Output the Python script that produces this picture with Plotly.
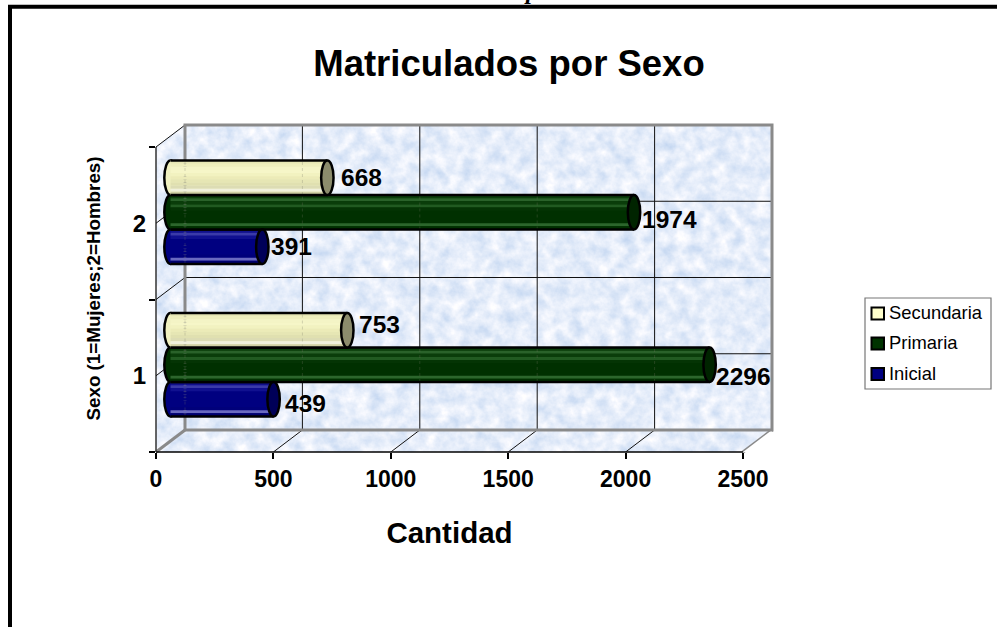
import base64
import plotly.graph_objects as go

# ---------- data ----------
categories = [1, 2]
inicial = [439, 391]
primaria = [2296, 1974]
secundaria = [753, 668]
series_names = ["Inicial", "Primaria", "Secundaria"]
x_ticks = [0, 500, 1000, 1500, 2000, 2500]
title_text = "Matriculados por Sexo"
x_title = "Cantidad"
y_title = "Sexo (1=Mujeres;2=Hombres)"

# ---------- geometry / style ----------
W, H = 997, 627
L_PX, R_PX, T_PX, B_PX = 156, 772, 125, 452
FRONT_R_PX = 743
X_PER_PX = 2500 / (FRONT_R_PX - L_PX)
Y_PER_PX = 2 / (452 - 147)
DEPTH_X = (R_PX - FRONT_R_PX) * X_PER_PX
DEPTH_Y = 22 * Y_PER_PX
X_MAX = 2500 + DEPTH_X
Y_MIN, Y_MAX = 0.5, 2.5 + DEPTH_Y
BAR_H = 34.5 * Y_PER_PX
CAP_HALF = 6.2 * X_PER_PX
BASE = DEPTH_X / 2
LIFT = DEPTH_Y / 2

FONT = "Liberation Sans"
GREY = "#8a8a8a"

strips = {
    "Secundaria": ["#e6e6b4", "#eeeebc", "#f4f4c6", "#f6f6c8", "#f2f2c0", "#ecebb8",
                   "#e6e6b4", "#e0e0b0", "#dcdcb4", "#f0f0dc", "#cfcfa4"],
    "Primaria": ["#0b3f0b", "#2a622a", "#0a3d0a", "#215a21", "#043404", "#003000",
                 "#003000", "#003000", "#003000", "#2c662c", "#003000"],
    "Inicial": ["#10108c", "#3a3aa8", "#101090", "#000080", "#000080", "#000080",
                "#000080", "#000080", "#00007a", "#6a6ac0", "#00006e"],
}
body = {"Secundaria": "#f0f0c0", "Primaria": "#003000", "Inicial": "#000080"}
caps = {"Secundaria": "#8c8c6c", "Primaria": "#002400", "Inicial": "#000058"}
swatch = {"Secundaria": "#ffffcc", "Primaria": "#003300", "Inicial": "#000080"}
offset = {"Inicial": -BAR_H, "Primaria": 0.0, "Secundaria": BAR_H}
values = {"Inicial": inicial, "Primaria": primaria, "Secundaria": secundaria}
# label shift relative to bar end (px): per series, per category
label_dx = {"Inicial": [32, 29], "Primaria": [34, 35], "Secundaria": [32, 34]}
label_dy = {"Inicial": [4, 0], "Primaria": [12, 7], "Secundaria": [-6, 0]}


def px(p):
    return (p - L_PX) / (R_PX - L_PX)


def py(p):
    return (B_PX - p) / (B_PX - T_PX)


shapes = []


def line(x0, y0, x1, y1, color="#111111", width=1, layer="below", xref="x", yref="y", dash=None, opacity=1):
    shapes.append(dict(type="line", x0=x0, y0=y0, x1=x1, y1=y1, xref=xref, yref=yref, layer=layer,
                       opacity=opacity, line=dict(color=color, width=width, dash=dash or "solid")))


# white corners outside the 3D box
shapes.append(dict(type="path", layer="below", xref="x", yref="y", fillcolor="white", line=dict(width=0),
                   path=f"M0,{Y_MAX} L{DEPTH_X},{Y_MAX} L0,2.5 Z"))
shapes.append(dict(type="path", layer="below", xref="x", yref="y", fillcolor="white", line=dict(width=0),
                   path=f"M2500,{Y_MIN} L{X_MAX},{Y_MIN} L{X_MAX},{Y_MIN + DEPTH_Y} Z"))

# back wall grid
for t in x_ticks[1:-1]:
    line(t + DEPTH_X, Y_MIN + DEPTH_Y, t + DEPTH_X, Y_MAX)
    line(t, Y_MIN, t + DEPTH_X, Y_MIN + DEPTH_Y)
for v in [1, 1.5, 2]:
    line(DEPTH_X, v + DEPTH_Y, X_MAX, v + DEPTH_Y)
for v in [1, 1.5, 2, 2.5]:
    line(0, v, DEPTH_X, v + DEPTH_Y)
# back wall frame (paper reference: not clipped by the plot area)
shapes.append(dict(type="rect", layer="above", xref="paper", yref="paper", x0=px(185), x1=px(772),
                   y0=py(430), y1=py(125), line=dict(color=GREY, width=3)))
line(px(156), py(452), px(185), py(430), color=GREY, width=3, xref="paper", yref="paper")
line(px(743), py(452), px(772), py(430), color=GREY, width=3, xref="paper", yref="paper")
# front axes
line(px(156), py(452), px(743), py(452), color="black", width=1.5, xref="paper", yref="paper")
line(px(156), py(452), px(156), py(147), color="#333333", width=1.5, xref="paper", yref="paper")

# bars
traces = []
for name in ["Inicial", "Primaria", "Secundaria"]:
    ys = [c + LIFT + offset[name] for c in categories]
    for y, v in zip(ys, values[name]):
        shapes.append(dict(type="circle", layer="below", xref="x", yref="y",
                           x0=BASE - CAP_HALF, x1=BASE + CAP_HALF,
                           y0=y - BAR_H / 2, y1=y + BAR_H / 2,
                           fillcolor=body[name], line=dict(color="black", width=2.5)))
    traces.append(go.Bar(
        name=name, orientation="h", y=ys, x=values[name], base=BASE, width=BAR_H,
        marker=dict(color=body[name], line=dict(width=0)), showlegend=False,
        hovertemplate=name + ": %{x}<extra></extra>",
    ))
    n = len(strips[name])
    for y, v in zip(ys, values[name]):
        for i, c in enumerate(strips[name]):
            top = y + BAR_H / 2 - i * BAR_H / n
            shapes.append(dict(type="rect", layer="above", xref="x", yref="y", x0=BASE, x1=BASE + v,
                               y0=top - BAR_H / n, y1=top, fillcolor=c, line=dict(width=0)))
        for t in x_ticks[:-1]:
            gx = t + DEPTH_X
            if gx < BASE + v:
                line(gx, y - BAR_H / 2, gx, y + BAR_H / 2, color="#777766", width=1, layer="above",
                     dash="dot", opacity=0.28)
        line(BASE, y + BAR_H / 2, BASE + v, y + BAR_H / 2, color="black", width=2.5, layer="above")
        line(BASE, y - BAR_H / 2, BASE + v, y - BAR_H / 2, color="black", width=2.5, layer="above")
# end caps on top of everything in the bars
for name in ["Inicial", "Primaria", "Secundaria"]:
    for c, v in zip(categories, values[name]):
        y = c + LIFT + offset[name]
        shapes.append(dict(type="circle", layer="above", xref="x", yref="y",
                           x0=BASE + v - CAP_HALF, x1=BASE + v + CAP_HALF,
                           y0=y - BAR_H / 2, y1=y + BAR_H / 2,
                           fillcolor=caps[name], line=dict(color="black", width=2.5)))

annotations = []
# value labels
for name in series_names:
    for i, (c, v) in enumerate(zip(categories, values[name])):
        annotations.append(dict(
            x=BASE + v, y=c + LIFT + offset[name], xref="x", yref="y", text=str(v), showarrow=False,
            xshift=label_dx[name][i], yshift=-label_dy[name][i],
            font=dict(family=FONT, size=24.5, color="black", weight="bold"),
        ))

# legend box
LEG_X0, LEG_X1, LEG_Y0, LEG_Y1 = 865, 991, 298, 389
shapes.append(dict(type="rect", xref="paper", yref="paper", layer="above",
                   x0=px(LEG_X0), x1=px(LEG_X1), y0=py(LEG_Y0), y1=py(LEG_Y1),
                   fillcolor="white", line=dict(color="#777777", width=1.2)))
for name, yc in zip(["Secundaria", "Primaria", "Inicial"], [313.5, 343.5, 374]):
    shapes.append(dict(type="rect", xref="paper", yref="paper", layer="above",
                       x0=px(871.5), x1=px(884), y0=py(yc - 6), y1=py(yc + 6),
                       fillcolor=swatch[name], line=dict(color="black", width=2)))
    annotations.append(dict(x=px(886.5), y=py(yc - 1), xref="paper", yref="paper", xanchor="left", yanchor="middle",
                            text=name, showarrow=False, font=dict(family=FONT, size=18.4, color="black")))

# page frame (thick black line at top and left)
line(px(8), py(6.7), px(W + 5), py(6.7), color="black", width=4, layer="above", xref="paper", yref="paper")
line(px(10), py(5), px(10), py(H + 5), color="black", width=4, layer="above", xref="paper", yref="paper")
# descender of the text cut off above the frame
annotations.append(dict(x=px(531), y=py(-9), xref="paper", yref="paper", xanchor="center", yanchor="middle",
                        text="p", showarrow=False,
                        font=dict(family="Liberation Serif", size=24, color="black", style="italic", weight="bold")))

# mottled wall texture (pattern, not data)
svg = (
    f'<svg xmlns="http://www.w3.org/2000/svg" width="{R_PX - L_PX}" height="{B_PX - T_PX}">'
    '<filter id="n" x="0" y="0" width="100%" height="100%" color-interpolation-filters="sRGB">'
    '<feTurbulence type="fractalNoise" baseFrequency="0.075" numOctaves="4" seed="7"/>'
    '<feColorMatrix type="matrix" values="0.30 0 0 0 0.75  0.20 0 0 0 0.83  0.08 0 0 0 0.94  0 0 0 0 1"/>'
    '</filter><rect width="100%" height="100%" filter="url(#n)"/></svg>'
)
src = "data:image/svg+xml;base64," + base64.b64encode(svg.encode()).decode()

# invisible trace that puts the tick axis (front plane of the box) on the page
traces.append(go.Scatter(x=x_ticks, y=[Y_MIN] * len(x_ticks), xaxis="x2", yaxis="y", mode="none",
                         hoverinfo="skip", showlegend=False))

fig = go.Figure(traces)
fig.update_layout(
    width=W, height=H, autosize=False,
    margin=dict(l=L_PX, r=W - R_PX, t=T_PX, b=H - B_PX, pad=0),
    paper_bgcolor="white", plot_bgcolor="rgba(0,0,0,0)",
    barmode="overlay", showlegend=False,
    font=dict(family=FONT, color="black"),
    title=dict(text=title_text, x=509 / W, xanchor="center", y=1 - 63 / H, yanchor="middle",
               font=dict(family=FONT, size=36.5, color="black", weight="bold")),
    xaxis=dict(range=[0, X_MAX], domain=[0, 1], showgrid=False, zeroline=False, showticklabels=False,
               ticks="", showline=False, fixedrange=True),
    xaxis2=dict(range=[0, 2500], domain=[0, (FRONT_R_PX - L_PX) / (R_PX - L_PX)], anchor="y", side="bottom",
                tickvals=x_ticks, ticktext=[str(t) for t in x_ticks], ticks="outside", ticklen=6, tickwidth=1.5,
                tickcolor="black", showgrid=False, zeroline=False, showline=False, fixedrange=True,
                tickfont=dict(family=FONT, size=23, color="black", weight="bold"),
                title=dict(text=x_title, standoff=31,
                           font=dict(family=FONT, size=29.5, color="black", weight="bold"))),
    yaxis=dict(range=[Y_MIN, Y_MAX], anchor="x", tickvals=categories, ticktext=[str(c) for c in categories],
               ticks="outside", ticklen=4, tickcolor="rgba(0,0,0,0)", showgrid=False, zeroline=False,
               showline=False, fixedrange=True,
               minor=dict(tickvals=[0.5, 1.5, 2.5], ticks="outside", ticklen=6, tickcolor="black", tickwidth=1.5,
                          showgrid=False),
               tickfont=dict(family=FONT, size=24, color="black", weight="bold"),
               title=dict(text=y_title, standoff=27,
                          font=dict(family=FONT, size=18.8, color="black", weight="bold"))),
    images=[dict(source=src, xref="paper", yref="paper", x=0, y=1, sizex=1, sizey=1, xanchor="left",
                 yanchor="top", sizing="stretch", layer="below")],
    shapes=shapes, annotations=annotations,
)
fig.write_html("out.html", config=dict(displayModeBar=False),
               post_script="document.body.style.margin='0';document.body.style.overflow='hidden';")
